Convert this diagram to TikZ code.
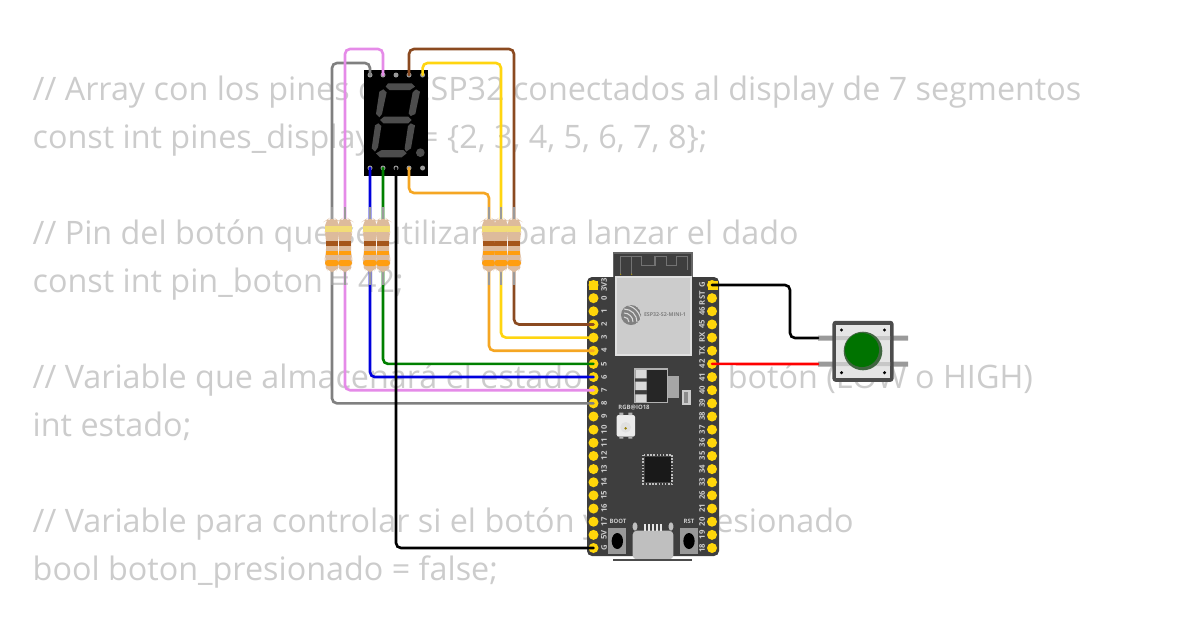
\documentclass[tikz,border=0pt]{standalone}
\usepackage{fontspec}
\setmainfont{Open Sans}
\usepackage{tikz}
\definecolor{codegray}{HTML}{CCCCCC}
\definecolor{boardgray}{HTML}{3E3E3E}
\definecolor{pinyellow}{HTML}{FFD60A}
\definecolor{segdark}{HTML}{4D4D4D}
\definecolor{leadgray}{HTML}{9A9A9A}
\definecolor{wirepink}{HTML}{E58BE8}
\definecolor{wirebrown}{HTML}{8B4A20}
\definecolor{wireyellow}{HTML}{FFD510}
\definecolor{wireorange}{HTML}{F5A623}
\definecolor{wiregreen}{HTML}{008000}
\definecolor{wireblue}{HTML}{0000DD}
\definecolor{restan}{HTML}{DDBB9C}
\definecolor{bandbrown}{HTML}{A5561A}
\definecolor{bandyellow}{HTML}{F2DC78}
\definecolor{bandorange}{HTML}{FF9E10}
\tikzset{
  codeline/.style={anchor=base west, inner sep=0pt, text=codegray, font=\fontsize{9.19}{11}\selectfont},
  wire/.style={line width=0.75pt, rounded corners=0.5mm, line cap=round},
  dpin/.style={circle, fill=#1, minimum size=0.5mm, inner sep=0pt},
  espin/.style={circle, fill=pinyellow, minimum size=1mm, inner sep=0pt},
  pinlabel/.style={rotate=90, text=white!80!black, inner sep=0pt, font=\fontsize{2.2}{2.6}\selectfont\bfseries},
  smalltag/.style={text=white!80!black, inner sep=0pt, font=\fontsize{1.7}{2.1}\selectfont\bfseries},
}
\newcommand{\resistor}[1]{%
  \draw[leadgray, line width=0.75pt] (#1,207) -- (#1,285);
  \fill[restan, rounded corners=0.6mm] (#1-7,221) -- (#1-4,219) -- (#1+4,219) -- (#1+7,221) -- (#1+7,233) -- (#1+6,237) -- (#1+6,255) -- (#1+7,258) -- (#1+7,266) -- (#1+4,272) -- (#1-4,272) -- (#1-7,266) -- (#1-7,258) -- (#1-6,255) -- (#1-6,237) -- (#1-7,233) -- cycle;
  \fill[bandyellow] (#1-7,226) rectangle (#1+7,232);
  \fill[bandbrown] (#1-6,241) rectangle (#1+6,246);
  \fill[bandorange] (#1-6,251) rectangle (#1+6,255);
  \fill[bandorange, rounded corners=0.3mm] (#1-7,260) rectangle (#1+7,266);
}

\begin{document}
\begin{tikzpicture}[x=0.01cm, y=-0.01cm]
    \useasboundingbox (0,0) rectangle (1200,630);

    %define the code behind the parts
    \node[codeline] (c1) at (32,100) {// Array con los pines del ESP32 conectados al display de 7 segmentos};
    \node[codeline] (c2) at (32,148) {const int pines\_display[7] = \{2, 3, 4, 5, 6, 7, 8\};};
    \node[codeline] (c3) at (32,244) {// Pin del botón que se utilizará para lanzar el dado};
    \node[codeline] (c4) at (32,292) {const int pin\_boton = 42;};
    \node[codeline] (c5) at (32,388) {// Variable que almacenará el estado leído del botón (LOW o HIGH)};
    \node[codeline] (c6) at (32,436) {int estado;};
    \node[codeline] (c7) at (32,532) {// Variable para controlar si el botón ya fue presionado};
    \node[codeline] (c8) at (32,580) {bool boton\_presionado = false;};

    %define the display
    \node[fill=black, minimum width=0.64cm, minimum height=1.06cm, inner sep=0pt] (disp) at (396,123) {};
    \begin{scope}[shift={(320,40)}, scale=1/3]
      \fill[segdark] (204,130) -- (275,130) -- (285,140) -- (270,150) -- (208,150) -- (197,140) -- cycle;
      \fill[segdark] (190,148) -- (200,157) -- (186,222) -- (178,232) -- (168,222) -- (178,155) -- cycle;
      \fill[segdark] (288,148) -- (300,155) -- (286,222) -- (272,228) -- (266,220) -- (278,157) -- cycle;
      \fill[segdark] (192,230) -- (265,230) -- (275,240) -- (265,250) -- (190,250) -- (180,240) -- cycle;
      \fill[segdark] (175,250) -- (184,258) -- (174,322) -- (165,335) -- (155,325) -- (165,256) -- cycle;
      \fill[segdark] (272,250) -- (285,256) -- (273,325) -- (258,335) -- (254,325) -- (264,258) -- cycle;
      \fill[segdark] (185,330) -- (250,330) -- (260,340) -- (245,352) -- (180,352) -- (168,340) -- cycle;
      \fill[segdark] (301,338) circle (13);
    \end{scope}
    \foreach \i/\x in {1/370,2/383,3/396,4/409,5/422.6} {
      \node[dpin=leadgray] (dt\i) at (\x,75) {};
      \node[dpin=leadgray] (db\i) at (\x,168) {};
    }

    %define the board
    \fill[boardgray, rounded corners=0.5mm] (587,277) rectangle (719,556);
    \fill[boardgray] (613.5,253) rectangle (692,300);
    \draw[black!60, line width=0.3pt] (613.5,277) -- (613.5,253) -- (692,253) -- (692,277);
    \node[fill=black!20, draw=black!12, line width=0.5pt, minimum width=0.75cm, minimum height=0.78cm, inner sep=0pt] (module) at (653.5,316) {};
    \begin{scope}[shift={(580,245)}, scale=1/3]
      \draw[black!55, line width=0.3pt] (122,88) -- (122,35) -- (185,35) -- (185,62) -- (225,62) -- (225,35) -- (260,35) -- (260,62) -- (290,62) -- (290,35) -- (322,35) -- (322,75);
      \draw[black!55, line width=0.3pt] (155,88) -- (155,35);
      \fill[pinyellow!70!black] (122,88) circle (2) (155,88) circle (2);
      %regulator
      \fill[black!35] (262,392) rectangle (298,458);
      \fill[black!15] (166,375) rectangle (200,400) (166,410) rectangle (200,435) (166,448) rectangle (200,472);
      \fill[black!85] (200,372) rectangle (262,472);
      \draw[black!30, line width=0.3pt] (164,372) rectangle (262,472);
      \fill[black!20] (305,435) rectangle (332,480);
      \fill[black!45] (312,441) rectangle (325,474);
    \end{scope}
    \begin{scope}
      \clip (631,315) circle (10);
      \fill[black!50] (631,315) circle (10);
      \foreach \r in {5,9,13,17} \draw[black!15, line width=0.3pt] (624,322) ++(\r,0) arc (0:-90:\r);
    \end{scope}
    \node[text=black!50, inner sep=0pt, font=\fontsize{1.5}{1.8}\selectfont\bfseries] (modname) at (665,315) {ESP32-S2-MINI-1};
    \begin{scope}[shift={(580,400)}, scale=1/3]
      %led
      \fill[white!92!black, rounded corners=0.2mm] (110,45) rectangle (165,110);
      \fill[black!30] (118,38) rectangle (130,45) (145,38) rectangle (157,45) (118,110) rectangle (130,116) (145,110) rectangle (157,116);
      \fill[black!12] (137,82) circle (16);
      \fill[pinyellow!60!black] (137,85) circle (4);
      %chip
      \fill[black!90] (195,170) rectangle (272,247);
      \draw[black!25, line width=0.5pt, dash pattern=on 0.4pt off 0.5pt] (190,165) rectangle (277,252);
      %buttons
      \fill[black!40] (85,385) rectangle (138,462);
      \fill[black] (112,423) ellipse (17 and 24);
      \fill[black!40] (300,385) rectangle (353,462);
      \fill[black] (327,423) ellipse (17 and 24);
      %usb
      \fill[black!25, rounded corners=0.4mm] (158,392) rectangle (280,478);
      \fill[black!25, rounded corners=0.3mm] (158,367) rectangle (172,392) (266,367) rectangle (280,392);
      \foreach \x in {195,207,219,231,243} \fill[black!10] (\x-4,371) rectangle (\x+4,392);
    \end{scope}
    \draw[black!70, line width=0.4pt] (613,560) -- (692,560);
    \node[smalltag] (ledtag) at (634,408) {RGB@IO18};
    \node[smalltag] (boottag) at (618,521.5) {BOOT};
    \node[smalltag] (rsttag) at (689,521.5) {RST};

    %define the pins of the board
    \foreach \t [count=\i from 0] in {3V3,0,1,2,3,4,5,6,7,8,9,10,11,12,13,14,15,16,17,5V,G} {
      \node[espin] (pl\i) at (593.5,{285+13.15*\i}) {};
      \node[pinlabel] (tl\i) at (604,{285+13.15*\i}) {\t};
    }
    \foreach \t [count=\i from 0] in {G,RST,46,45,RX,TX,42,41,40,39,38,37,36,35,34,33,26,21,20,19,18} {
      \node[espin] (pr\i) at (712,{285+13.15*\i}) {};
      \node[pinlabel] (tr\i) at (702,{285+13.15*\i}) {\t};
    }
    \fill[pinyellow] (589,280.5) rectangle (598,289.5);
    \fill[pinyellow] (707.5,280.5) rectangle (717.5,289.5);

    %define the push button
    \fill[leadgray] (818,335.5) rectangle (908,340.5) (818,361.5) rectangle (908,366.5);
    \node[fill=black!70, rounded corners=0.3mm, minimum size=0.61cm, inner sep=0pt] (btn) at (863,351.3) {};
    \fill[black!10] (836,325) rectangle (890,378);
    \fill[black!22] (836,336) rectangle (890,340) (836,362) rectangle (890,366);
    \fill[green!20!black!75] (863,351) circle (19.3);
    \fill[green!45!black] (862,350) circle (17);
    \foreach \x in {841.5,884.5} \foreach \y in {330,372.7} \fill[black] (\x,\y) circle (1.7);
    \coordinate (btna) at (818,338);
    \coordinate (btnb) at (818,364);

    %define the links
    \foreach \n/\x in {ra/332,rb/345,rc/370,rd/383,re/489,rf/501,rg/514}
      \coordinate (\n) at (\x,245);
    \draw[wire, gray] (dt1.center) -- ++(0,-12) -| (ra) |- (pl9.center);
    \draw[wire, wirepink] (dt2.center) -- ++(0,-26) -| (rb) |- (pl8.center);
    \draw[wire, wirebrown] (dt4.center) -- ++(0,-26) -| (rg) |- (pl3.center);
    \draw[wire, wireyellow] (dt5.center) -- ++(0,-12) -| (rf) |- (pl4.center);
    \draw[wire, wireorange] (db4.center) -- ++(0,25) -| (re) |- (pl5.center);
    \draw[wire, wireblue] (db1.center) -- (rc) |- (pl7.center);
    \draw[wire, wiregreen] (db2.center) -- (rd) |- (pl6.center);
    \draw[wire, black] (db3.center) |- (pl20.center);
    \draw[wire, black] (pr0.center) -- ++(78,0) |- (btna);
    \draw[wire, red] (pr6.center) -- (btnb);

    %define the resistors
    \foreach \x in {332,345,370,383,489,501,514} {
      \resistor{\x}
    }
\end{tikzpicture}
\end{document}
